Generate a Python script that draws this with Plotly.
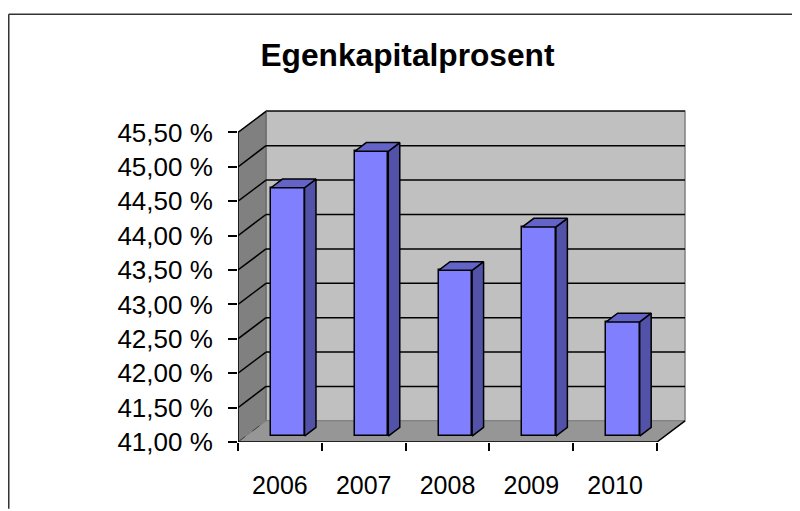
import plotly.graph_objects as go

# ---- data ----
years = ["2006", "2007", "2008", "2009", "2010"]
values = [44.61, 45.14, 43.41, 44.04, 42.66]
y_ticks = [41.0, 41.5, 42.0, 42.5, 43.0, 43.5, 44.0, 44.5, 45.0, 45.5]
y_tick_labels = ["41,00 %", "41,50 %", "42,00 %", "42,50 %", "43,00 %",
                 "43,50 %", "44,00 %", "44,50 %", "45,00 %", "45,50 %"]
title_text = "Egenkapitalprosent"

# ---- geometry (pseudo-3D, oblique projection) ----
PAGE_PAD = 8         # default body margin of the html page
W, H = 800 - PAGE_PAD, 511 - PAGE_PAD
L = 238 - PAGE_PAD
T = 100 - PAGE_PAD
B = H - (448 - PAGE_PAD)
X_PX = 83.8          # px per category
Y_PX = 70.0          # px per value unit
pw = 462
R = W - L - pw
ph = H - T - B
DX = 28.0 / X_PX     # depth offset in x data units
DY = 21.5 / Y_PX     # depth offset in y data units
D0, D1 = 0.28, 0.69  # bar depth span (fraction)
BW = 0.4
YMIN, YMAX = y_ticks[0], y_ticks[-1]
n = len(years)
XL, XR = -0.5, n - 0.5

x_range = [XL, XL + pw / X_PX]
y_range = [YMIN, YMIN + ph / Y_PX]

FONT = "Liberation Sans, Arial, sans-serif"
FRONT = "#8080FF"
SIDE = "#5252A8"
TOP = "#6464C8"

fig = go.Figure()

# front faces of bars
xs_front = [i + D0 * DX for i in range(n)]
fig.add_trace(go.Bar(
    x=xs_front, y=[v - YMIN for v in values], base=YMIN + D0 * DY,
    width=BW, marker=dict(color=FRONT, line=dict(color="black", width=1.5)),
    hoverinfo="skip", showlegend=False))

# side and top faces
ddx, ddy = (D1 - D0) * DX, (D1 - D0) * DY
sx, sy, tx, ty = [], [], [], []
for i, v in enumerate(values):
    xl = xs_front[i] - BW / 2
    xr = xs_front[i] + BW / 2
    b0 = YMIN + D0 * DY
    t0 = v + D0 * DY
    sx += [xr, xr, xr + ddx, xr + ddx, xr, None]
    sy += [b0, t0, t0 + ddy, b0 + ddy, b0, None]
    tx += [xl, xr, xr + ddx, xl + ddx, xl, None]
    ty += [t0, t0, t0 + ddy, t0 + ddy, t0, None]
fig.add_trace(go.Scatter(x=sx, y=sy, mode="lines", fill="toself", fillcolor=SIDE,
                         line=dict(color="black", width=1.5), hoverinfo="skip",
                         showlegend=False))
fig.add_trace(go.Scatter(x=tx, y=ty, mode="lines", fill="toself", fillcolor=TOP,
                         line=dict(color="black", width=1.5), hoverinfo="skip",
                         showlegend=False))
# invisible trace for label axis
fig.add_trace(go.Scatter(x=[0], y=[YMIN], xaxis="x2", mode="markers",
                         marker=dict(opacity=0), hoverinfo="skip", showlegend=False))

shapes = []
def poly(pts, fill, line_color=None, width=0):
    p = "M " + " L ".join(f"{x},{y}" for x, y in pts) + " Z"
    return dict(type="path", path=p, xref="x", yref="y", layer="below",
                fillcolor=fill, line=dict(color=line_color or fill, width=width))
def seg(x0, y0, x1, y1, color="black", width=1.5, dash="solid"):
    return dict(type="line", x0=x0, y0=y0, x1=x1, y1=y1, xref="x", yref="y",
                layer="below", line=dict(color=color, width=width, dash=dash))

# back wall
shapes.append(poly([(XL + DX, YMIN + DY), (XR + DX, YMIN + DY),
                    (XR + DX, YMAX + DY), (XL + DX, YMAX + DY)], "#C0C0C0", "#808080", 1.5))
# left wall
shapes.append(poly([(XL, YMIN), (XL, YMAX), (XL + DX, YMAX + DY), (XL + DX, YMIN + DY)],
                   "#808080", "#606060", 1))
# floor
shapes.append(poly([(XL, YMIN), (XR, YMIN), (XR + DX, YMIN + DY), (XL + DX, YMIN + DY)],
                   "#969696", "#808080", 1))
# gridlines
for yv in y_ticks[1:]:
    shapes.append(seg(XL + DX, yv + DY, XR + DX, yv + DY, "black", 1.5))
    shapes.append(seg(XL, yv, XL + DX, yv + DY, "black", 1.5))
shapes.append(seg(XL + DX, YMAX + DY, XR + DX, YMAX + DY, "#333333", 1.5))
# floor/wall edges
shapes.append(seg(XL, YMIN, XL + DX, YMIN + DY, "#404040", 1, "dash"))
shapes.append(seg(XL, YMIN, XR, YMIN, "black", 1.5))
shapes.append(seg(XR, YMIN, XR + DX, YMIN + DY, "black", 1.5))
shapes.append(seg(XL, YMIN, XL, YMAX, "black", 1.5))
# outer frame (only top and left edges are inside the picture)
fx0, fy0 = 8 - PAGE_PAD + 0.75, 12 - PAGE_PAD + 0.75
px_x = lambda p: (p - L) / pw
px_y = lambda p: (T + ph - p) / ph
frame = dict(color="#333333", width=1.5)
shapes.append(dict(type="line", xref="paper", yref="paper", layer="below",
                   x0=px_x(fx0), x1=px_x(W + 5), y0=px_y(fy0), y1=px_y(fy0), line=frame))
shapes.append(dict(type="line", xref="paper", yref="paper", layer="below",
                   x0=px_x(fx0), x1=px_x(fx0), y0=px_y(fy0), y1=px_y(H + 5), line=frame))

fig.update_layout(
    width=W, height=H, margin=dict(l=L, r=R, t=T, b=B),
    paper_bgcolor="white", plot_bgcolor="rgba(0,0,0,0)",
    shapes=shapes, showlegend=False, bargap=0,
    title=dict(text=f"<b>{title_text}</b>", x=(407.5 - PAGE_PAD) / W, xref="container",
               xanchor="center", y=1 - (55 - PAGE_PAD) / H, yref="container",
               yanchor="middle", font=dict(family=FONT, size=31.7, color="black")),
    font=dict(family=FONT, color="black"),
    xaxis=dict(range=x_range, showgrid=False, zeroline=False, showline=False,
               tickvals=[XL + k for k in range(n + 1)], ticktext=[""] * (n + 1),
               ticks="outside", ticklen=8, tickwidth=1.5, tickcolor="black",
               fixedrange=True),
    xaxis2=dict(range=x_range, overlaying="x", anchor="y", side="bottom",
                showgrid=False, zeroline=False, showline=False,
                tickvals=list(range(n)), ticktext=years, ticks="",
                ticklabelstandoff=26, tickfont=dict(family=FONT, size=25, color="black"),
                fixedrange=True),
    yaxis=dict(range=y_range, showgrid=False, zeroline=False, showline=False,
               tickvals=y_ticks, ticktext=y_tick_labels, ticks="outside", ticklen=9,
               tickwidth=1.5, tickcolor="black", ticklabelstandoff=10,
               tickfont=dict(family=FONT, size=26, color="black"), fixedrange=True),
)

fig.write_html("out.html", config={"displayModeBar": False})
